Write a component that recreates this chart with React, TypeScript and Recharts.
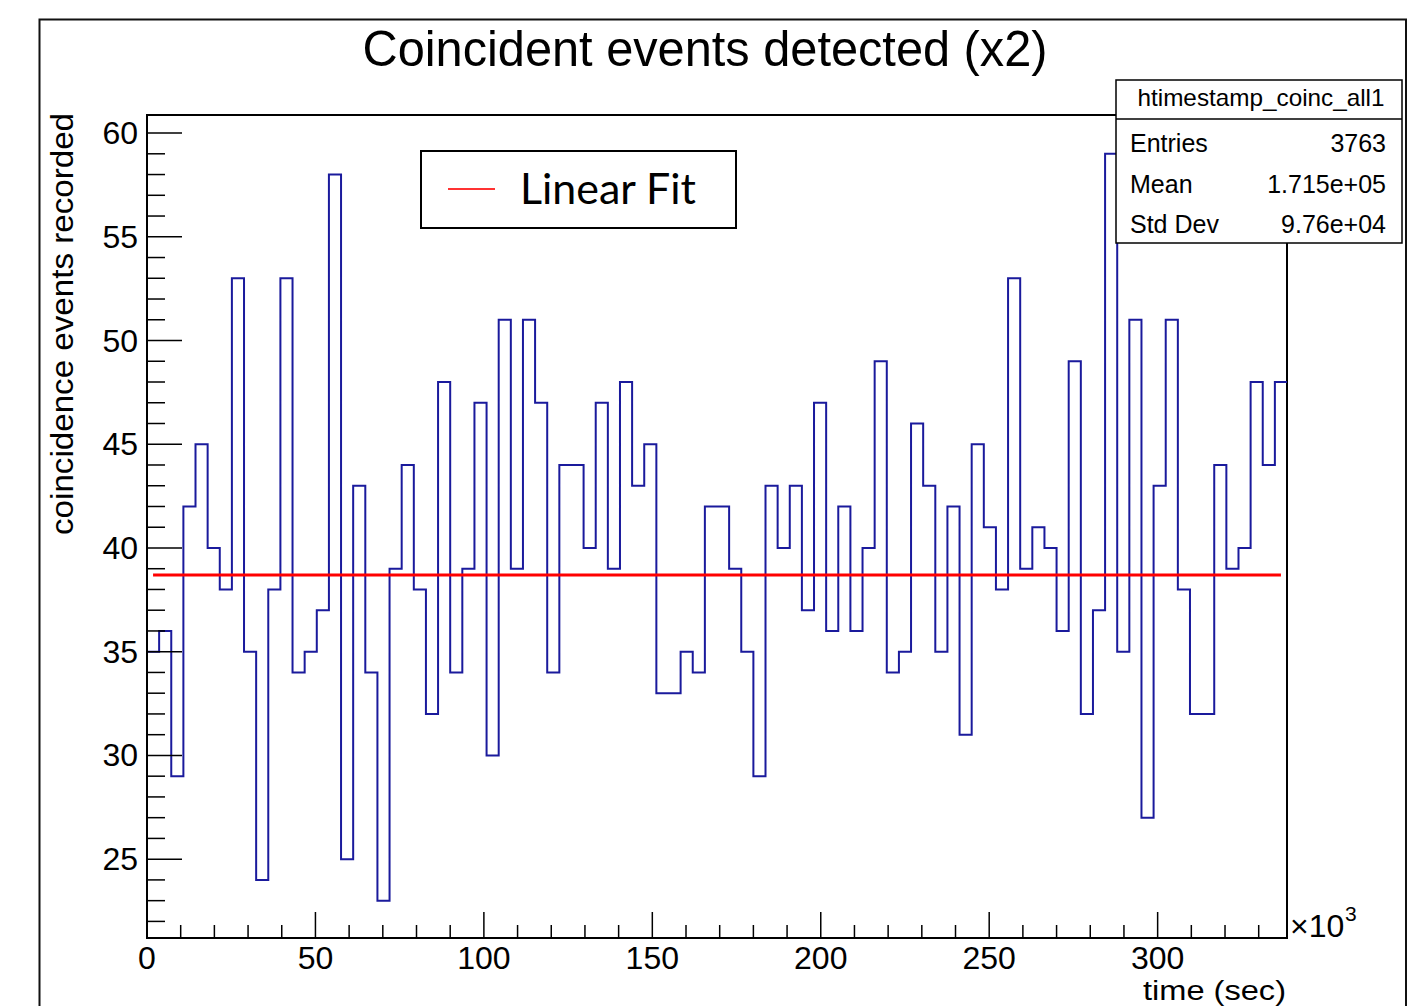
import React from 'react';
import { ComposedChart, Line, XAxis, YAxis, ReferenceArea } from 'recharts';

// counts per 1-hour bin (3.6 x10^3 s)
const binValues = [
  35, 36, 29, 42, 45, 40, 38, 53, 35, 24,
  38, 53, 34, 35, 37, 58, 25, 43, 34, 23,
  39, 44, 38, 32, 48, 34, 39, 47, 30, 51,
  39, 51, 47, 34, 44, 44, 40, 47, 39, 48,
  43, 45, 33, 33, 35, 34, 42, 42, 39, 35,
  29, 43, 40, 43, 37, 47, 36, 42, 36, 40,
  49, 34, 35, 46, 43, 35, 42, 31, 45, 41,
  38, 53, 39, 41, 40, 36, 49, 32, 37, 59,
  35, 51, 27, 43, 51, 38, 32, 32, 44, 39,
  40, 48, 44, 48,
];
const binWidth = 3.6;

const fitX = [1.8, 336.6];
const fitY = [38.7, 38.7];

const xTicks = [0, 10, 20, 30, 40, 50, 60, 70, 80, 90, 100, 110, 120, 130, 140, 150, 160, 170, 180, 190, 200, 210, 220, 230, 240, 250, 260, 270, 280, 290, 300, 310, 320, 330];
const yTicks = [22, 23, 24, 25, 26, 27, 28, 29, 30, 31, 32, 33, 34, 35, 36, 37, 38, 39, 40, 41, 42, 43, 44, 45, 46, 47, 48, 49, 50, 51, 52, 53, 54, 55, 56, 57, 58, 59, 60];

const statsRows = [
  ['Entries', '3763'],
  ['Mean', '1.715e+05'],
  ['Std Dev', '9.76e+04'],
];

const histData = binValues.map((v, i) => ({ x: i * binWidth, y: v }));
histData.push({ x: binValues.length * binWidth, y: binValues[binValues.length - 1] });
const fitData = fitX.map((x, i) => ({ x, y: fitY[i] }));

const FONT = '"Liberation Sans", Arial, Helvetica, sans-serif';

const YTick = (props: any) => {
  const { x, y, payload } = props;
  const v = payload.value;
  const major = v % 5 === 0;
  return (
    <g>
      <line x1={x} y1={y} x2={x + (major ? 35 : 18)} y2={y} stroke="#000" strokeWidth={1.5} />
      {major && (
        <text x={x - 9} y={y} textAnchor="end" dominantBaseline="central" fontSize={32} fontFamily={FONT} fill="#000">
          {v}
        </text>
      )}
    </g>
  );
};

const XTick = (props: any) => {
  const { x, y, payload } = props;
  const v = payload.value;
  const major = v % 50 === 0;
  return (
    <g>
      <line x1={x} y1={y} x2={x} y2={y - (major ? 26 : 13)} stroke="#000" strokeWidth={1.5} />
      {major && (
        <text x={x} y={y + 31} textAnchor="middle" fontSize={32} fontFamily={FONT} fill="#000">
          {v}
        </text>
      )}
    </g>
  );
};

const Overlay = () => (
  <svg width={1408} height={1006} style={{ position: 'absolute', left: 0, top: 0, pointerEvents: 'none' }}>
    {/* outer pad border */}
    <polyline points="39.5,1006 39.5,19.5 1406,19.5 1406,1006" fill="none" stroke="#111" strokeWidth={2} />
    <text x={705} y={66} textAnchor="middle" fontSize={50} fontFamily={FONT} textLength={685} lengthAdjust="spacingAndGlyphs">
      Coincident events detected (x2)
    </text>
    <text transform="translate(73,113) rotate(-90)" textAnchor="end" fontSize={32} fontFamily={FONT} textLength={422} lengthAdjust="spacingAndGlyphs">
      coincidence events recorded
    </text>
    <text x={1290} y={937} fontSize={32} fontFamily={FONT}>×10</text>
    <text x={1345} y={921} fontSize={21} fontFamily={FONT}>3</text>
    <text x={1286} y={1000} textAnchor="end" fontSize={27} fontFamily={FONT} textLength={143} lengthAdjust="spacingAndGlyphs">
      time (sec)
    </text>

    {/* legend */}
    <rect x={421} y={151} width={315} height={77} fill="#fff" stroke="#000" strokeWidth={2} />
    <line x1={448} y1={189} x2={495} y2={189} stroke="#f33" strokeWidth={2} />
    <text x={520} y={204} fontSize={43} fontFamily="Lato, 'Open Sans', sans-serif" textLength={176} lengthAdjust="spacingAndGlyphs">
      Linear Fit
    </text>

    {/* stats box */}
    <rect x={1116} y={80} width={286} height={163} fill="#fff" stroke="#000" strokeWidth={1.5} />
    <line x1={1116} y1={119} x2={1402} y2={119} stroke="#000" strokeWidth={1.5} />
    <text x={1261} y={106} textAnchor="middle" fontSize={24} fontFamily={FONT} textLength={247} lengthAdjust="spacingAndGlyphs">
      htimestamp_coinc_all1
    </text>
    {statsRows.map((r, i) => (
      <g key={r[0]}>
        <text x={1130} y={152 + i * 40.7} fontSize={25} fontFamily={FONT}>{r[0]}</text>
        <text x={1386} y={152 + i * 40.7} textAnchor="end" fontSize={25} fontFamily={FONT}>{r[1]}</text>
      </g>
    ))}
  </svg>
);

export default function App() {
  return (
    <div style={{ position: 'relative', width: 1408, height: 1006, background: '#fff' }}>
      <style>{'body{margin:0}'}</style>
      <ComposedChart width={1408} height={1006} margin={{ top: 115, right: 121, bottom: 8, left: 47 }}>
        <XAxis
          dataKey="x"
          type="number"
          domain={[0, 338.4]}
          allowDataOverflow
          ticks={xTicks}
          interval={0}
          tick={<XTick />}
          tickLine={false}
          tickSize={0}
          tickMargin={0}
          height={60}
          axisLine={{ stroke: '#000', strokeWidth: 2 }}
        />
        <YAxis
          type="number"
          domain={[21.2, 60.87]}
          allowDataOverflow
          ticks={yTicks}
          interval={0}
          tick={<YTick />}
          tickLine={false}
          tickSize={0}
          tickMargin={0}
          width={100}
          axisLine={{ stroke: '#000', strokeWidth: 2 }}
        />
        <ReferenceArea x1={0} x2={338.4} y1={21.2} y2={60.87} fill="none" stroke="#000" strokeWidth={2} ifOverflow="visible" />
        <Line
          data={histData}
          dataKey="y"
          type="stepAfter"
          stroke="#1a1a9c"
          strokeWidth={2}
          dot={false}
          isAnimationActive={false}
        />
        <Line
          data={fitData}
          dataKey="y"
          type="linear"
          stroke="#ff0000"
          strokeWidth={3}
          dot={false}
          isAnimationActive={false}
        />
      </ComposedChart>
      <Overlay />
    </div>
  );
}
